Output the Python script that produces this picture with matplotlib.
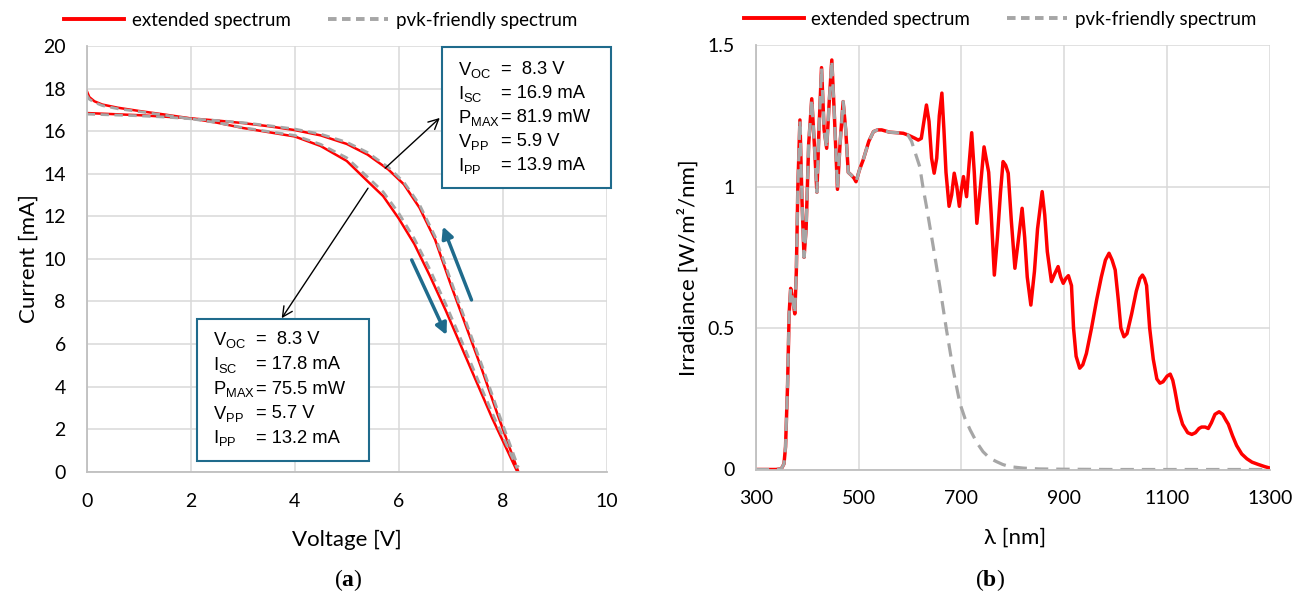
import numpy as np
import matplotlib
matplotlib.use('Agg')
import matplotlib.pyplot as plt
from matplotlib.lines import Line2D
from matplotlib.patches import Rectangle

plt.rcParams['font.family'] = ['Lato', 'DejaVu Sans']
plt.rcParams['mathtext.fontset'] = 'custom'
plt.rcParams['mathtext.rm'] = 'Liberation Sans'
plt.rcParams['mathtext.bf'] = 'Liberation Serif:bold'

# ---- (a) I-V curves ----
v_fwd = [0, 0.05, 0.15, 0.3, 0.6, 1.0, 1.5, 2.0, 2.5, 3.0, 3.5, 4.0, 4.5, 5.0, 5.4, 5.7,
         6.0, 6.3, 6.6, 6.9, 7.2, 7.5, 7.8, 8.05, 8.28]
i_fwd_ext = [17.9, 17.6, 17.4, 17.25, 17.1, 16.95, 16.78, 16.6, 16.4, 16.15, 15.95, 15.75, 15.3,
             14.6, 13.65, 12.95, 11.9, 10.7, 9.2, 7.6, 5.9, 4.2, 2.5, 1.2, 0]
i_fwd_pvk = [17.7, 17.5, 17.35, 17.2, 17.05, 16.92, 16.75, 16.58, 16.4, 16.17, 15.98, 15.8, 15.38,
             14.75, 13.85, 13.15, 12.15, 10.95, 9.5, 7.9, 6.2, 4.45, 2.75, 1.4, 0.15]
v_rev = [0, 0.5, 1, 1.5, 2, 2.5, 3, 3.5, 4, 4.5, 5.0, 5.4, 5.8, 6.1, 6.4, 6.7, 7.0, 7.3, 7.6,
         7.9, 8.1, 8.3]
i_rev_ext = [16.85, 16.8, 16.75, 16.68, 16.6, 16.5, 16.38, 16.23, 16.05, 15.8, 15.4, 14.9, 14.2,
             13.5, 12.4, 10.9, 8.8, 6.8, 4.8, 2.7, 1.35, 0]
i_rev_pvk = [16.8, 16.76, 16.72, 16.66, 16.58, 16.5, 16.4, 16.26, 16.1, 15.86, 15.48, 15.0, 14.3,
             13.6, 12.55, 11.05, 9.0, 7.0, 5.0, 2.9, 1.55, 0.2]

box_rev = [('V', 'OC', '=  8.3 V'), ('I', 'SC', '= 16.9 mA'), ('P', 'MAX', '= 81.9 mW'),
           ('V', 'PP', '= 5.9 V'), ('I', 'PP', '= 13.9 mA')]
box_fwd = [('V', 'OC', '=  8.3 V'), ('I', 'SC', '= 17.8 mA'), ('P', 'MAX', '= 75.5 mW'),
           ('V', 'PP', '= 5.7 V'), ('I', 'PP', '= 13.2 mA')]

# ---- (b) spectra ----
wl_ext = [300, 320, 340, 350, 355, 358, 362, 365, 368, 372, 376, 379, 382, 386, 390, 394, 398,
          403, 409, 414, 419, 423, 428, 433, 438, 443, 448, 453, 459, 464, 470, 475, 480, 486,
          491, 495, 502, 509, 520, 529, 537, 545, 560, 575, 587, 596, 603, 610, 616, 622, 627,
          632, 637, 642, 647, 652, 657, 662, 666, 670, 676, 681, 686, 691, 696, 700, 704, 710,
          715, 720, 725, 730, 737, 744, 750, 753, 758, 764, 770, 776, 781, 786, 791, 797, 804,
          810, 818, 823, 828, 835, 842, 848, 857, 862, 867, 875, 881, 888, 893, 898, 903, 908,
          914, 918, 923, 930, 936, 943, 953, 963, 972, 980, 987, 993, 999, 1005, 1010, 1016,
          1022, 1031, 1040, 1047, 1052, 1056, 1060, 1066, 1073, 1080, 1086, 1092, 1100, 1106,
          1111, 1115, 1122, 1130, 1140, 1148, 1155, 1162, 1167, 1174, 1180, 1186, 1193, 1201,
          1208, 1214, 1219, 1227, 1235, 1245, 1255, 1265, 1277, 1290, 1300]
irr_ext = [0, 0, 0, 0.003, 0.02, 0.08, 0.3, 0.55, 0.64, 0.6, 0.55, 0.7, 1.0, 1.235, 0.95, 0.75,
           0.85, 1.15, 1.31, 1.15, 0.98, 1.2, 1.42, 1.2, 1.135, 1.3, 1.447, 1.25, 0.99, 1.15,
           1.3, 1.2, 1.05, 1.04, 1.03, 1.017, 1.06, 1.094, 1.16, 1.194, 1.2, 1.2, 1.192, 1.19,
           1.188, 1.182, 1.176, 1.17, 1.164, 1.17, 1.23, 1.288, 1.23, 1.1, 1.047, 1.1, 1.25,
           1.33, 1.2, 1.05, 0.93, 0.97, 1.047, 1.0, 0.93, 0.99, 1.035, 0.964, 1.08, 1.19, 1.05,
           0.87, 1.0, 1.14, 1.08, 1.05, 0.9, 0.687, 0.82, 0.98, 1.088, 1.075, 1.047, 0.88,
           0.711, 0.8, 0.923, 0.82, 0.68, 0.581, 0.7, 0.85, 0.982, 0.9, 0.77, 0.664, 0.69, 0.717,
           0.68, 0.658, 0.675, 0.685, 0.65, 0.5, 0.4, 0.358, 0.37, 0.41, 0.5, 0.6, 0.68, 0.74,
           0.764, 0.74, 0.705, 0.6, 0.5, 0.469, 0.48, 0.55, 0.63, 0.675, 0.687, 0.675, 0.65, 0.5,
           0.39, 0.32, 0.305, 0.31, 0.33, 0.337, 0.315, 0.28, 0.21, 0.16, 0.13, 0.124, 0.13,
           0.145, 0.15, 0.15, 0.145, 0.165, 0.195, 0.204, 0.195, 0.175, 0.16, 0.12, 0.085, 0.055,
           0.038, 0.026, 0.018, 0.01, 0.005]
wl_pvk_tail = [603, 610, 619, 625, 632, 645, 658, 671, 684, 697, 707, 717, 730, 742, 755, 768,
               780, 794, 820, 850, 900, 1000, 1300]
irr_pvk_tail = [1.16, 1.12, 1.07, 1.0, 0.93, 0.79, 0.646, 0.493, 0.352, 0.234, 0.18, 0.14, 0.095,
                0.063, 0.04, 0.028, 0.018, 0.01, 0.005, 0.002, 0.001, 0, 0]

n_common = wl_ext.index(596) + 1
wl_pvk = wl_ext[:n_common] + wl_pvk_tail
irr_pvk = irr_ext[:n_common] + irr_pvk_tail

W, H = 1305, 599
RED = '#ff0000'
GREY = '#a6a6a6'
TEAL = '#1f6b8c'
GRID = '#d9d9d9'

fig = plt.figure(figsize=(W / 100, H / 100), dpi=100)
ax1 = fig.add_axes([86.7 / W, 1 - 471.7 / H, 520 / W, 425.7 / H])
ax2 = fig.add_axes([755.7 / W, 1 - 469.5 / H, 514.3 / W, 424.5 / H])


def style(ax):
    ax.grid(True, color=GRID, lw=1.1)
    ax.set_axisbelow(True)
    for s in ['top', 'right']:
        ax.spines[s].set_visible(False)
    for s in ['left', 'bottom']:
        ax.spines[s].set_color('#bfbfbf')
        ax.spines[s].set_linewidth(1.3)
    ax.tick_params(length=0, labelsize=14, pad=15)


# (a)
ax1.plot(v_fwd, i_fwd_ext, color=RED, lw=1.8)
ax1.plot(v_rev, i_rev_ext, color=RED, lw=1.8)
ax1.plot(v_fwd, i_fwd_pvk, color=GREY, lw=2.0, ls=(0, (3, 2)))
ax1.plot(v_rev, i_rev_pvk, color=GREY, lw=2.0, ls=(0, (3, 2)))
ax1.set_xlim(0, 10)
ax1.set_ylim(0, 20)
ax1.set_xticks(np.arange(0, 11, 2))
ax1.set_yticks(np.arange(0, 21, 2))
style(ax1)
ax1.set_xlabel('Voltage [V]', fontsize=16)
ax1.set_ylabel('Current [mA]', fontsize=16)
ax1.xaxis.set_label_coords(0.5, -0.137)
ax1.yaxis.set_label_coords(-0.092, 0.5)

# hysteresis arrows
ax1.annotate('', xy=(6.85, 11.52), xytext=(7.40, 8.07),
             arrowprops=dict(arrowstyle='-|>', color=TEAL, lw=2.5, mutation_scale=17,
                             shrinkA=0, shrinkB=0))
ax1.annotate('', xy=(6.92, 6.42), xytext=(6.25, 9.95),
             arrowprops=dict(arrowstyle='-|>', color=TEAL, lw=2.5, mutation_scale=17,
                             shrinkA=0, shrinkB=0))
# pointer arrows to boxes
ax1.annotate('', xy=(6.79, 16.62), xytext=(5.74, 14.26),
             arrowprops=dict(arrowstyle='->', color='black', lw=1, mutation_scale=18,
                             shrinkA=0, shrinkB=0))
ax1.annotate('', xy=(3.75, 7.21), xytext=(5.41, 13.32),
             arrowprops=dict(arrowstyle='->', color='black', lw=1, mutation_scale=18,
                             shrinkA=0, shrinkB=0))

ax1.add_patch(Rectangle((6.84, 13.35), 3.24, 6.62, facecolor='white', edgecolor=TEAL,
                        lw=1.5, zorder=5, clip_on=False))
ax1.add_patch(Rectangle((2.115, 0.517), 3.32, 6.663, facecolor='white', edgecolor=TEAL,
                        lw=1.5, zorder=5, clip_on=False))


def box_text(rows, x_lab, x_val, y0, dy):
    for k, (sym, sub, val) in enumerate(rows):
        y = y0 + k * dy
        fig.text(x_lab / W, 1 - y / H, sym + r'$_{\mathrm{' + sub + '}}$', fontsize=13.2,
                 family='Liberation Sans', va='center', ha='left', zorder=6)
        fig.text(x_val / W, 1 - y / H, val, fontsize=13.2, family='Liberation Sans',
                 va='center', ha='left', zorder=6)


box_text(box_rev, 458, 501, 69.5, 24.1)
box_text(box_fwd, 213, 256, 340, 24.6)

leg1 = [Line2D([], [], color=RED, lw=2.8), Line2D([], [], color=GREY, lw=2.8, ls=(0, (2.2, 1.4)))]
ax1.legend(leg1, ['extended spectrum', 'pvk-friendly spectrum'], loc='center',
           bbox_to_anchor=(0.45, 1.06), ncol=2, frameon=False, fontsize=13.5,
           handlelength=3.2, handletextpad=0.4, columnspacing=2.0)

# (b)
ax2.plot(wl_ext, irr_ext, color=RED, lw=2.5)
ax2.plot(wl_pvk, irr_pvk, color=GREY, lw=2.3, ls=(0, (4.2, 2.5)))
ax2.set_xlim(300, 1300)
ax2.set_ylim(0, 1.5)
ax2.set_xticks(np.arange(300, 1301, 200))
ax2.set_yticks([0, 0.5, 1, 1.5])
ax2.set_yticklabels(['0', '0.5', '1', '1.5'])
style(ax2)
ax2.set_xlabel('λ [nm]', fontsize=16)
ax2.set_ylabel('Irradiance [W/m²/nm]', fontsize=16)
ax2.xaxis.set_label_coords(0.504, -0.137)
ax2.yaxis.set_label_coords(-0.111, 0.475)
ax2.legend(leg1, ['extended spectrum', 'pvk-friendly spectrum'], loc='center',
           bbox_to_anchor=(0.475, 1.06), ncol=2, frameon=False, fontsize=13.5,
           handlelength=3.2, handletextpad=0.4, columnspacing=2.0)

fig.text(348 / W, 1 - 580 / H, r'($\mathbf{a}$)', family='Liberation Serif', fontsize=17,
         ha='center', va='center')
fig.text(990 / W, 1 - 580 / H, r'($\mathbf{b}$)', family='Liberation Serif', fontsize=17,
         ha='center', va='center')

fig.savefig('out.png', dpi=100)
